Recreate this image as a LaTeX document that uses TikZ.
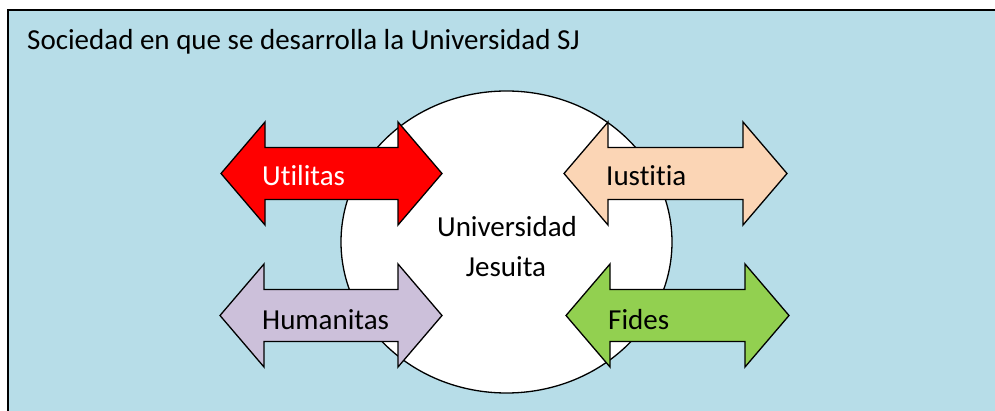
\documentclass[tikz,border=0pt]{standalone}
\usepackage{fontspec}
\setmainfont[RawFeature={-liga;-clig;-dlig;-calt}]{Carlito}
\definecolor{bgblue}{HTML}{B7DDE8}
\definecolor{utred}{HTML}{FF0000}
\definecolor{iupeach}{HTML}{FBD5B5}
\definecolor{hulav}{HTML}{CCC0DA}
\definecolor{figreen}{HTML}{92D050}
\newcommand\dblarr[4]{%
  \draw[arrowbox, fill=#4] (#1,#3) -- (#1+44,#3-51.5) -- (#1+44,#3-26) -- (#2-44,#3-26) -- (#2-44,#3-51.5) -- (#2,#3) -- (#2-44,#3+51.5) -- (#2-44,#3+26) -- (#1+44,#3+26) -- (#1+44,#3+51.5) -- cycle;}
\begin{document}
\begin{tikzpicture}[x=1pt,y=-1pt,
  arrowbox/.style={draw=black, line width=1.3pt, line join=miter},
  lbl/.style={inner sep=0pt, font=\fontsize{29}{35}\selectfont},
  ]
\useasboundingbox (0,0) rectangle (995,411);
\clip (0,0) rectangle (995,411);
\fill[white] (0,0) rectangle (995,411);
\draw[line width=2pt, fill=bgblue] (7.5,10.5) rectangle (1010,430);
\node[lbl, anchor=base west] (title) at (27,50) {Sociedad en que se desarrolla la Universidad SJ};
\coordinate (cc) at (506.5,242);
\draw[line width=1.3pt, fill=white] (cc) ellipse [x radius=165.5, y radius=151];
\dblarr{221}{442}{173.5}{utred}
\dblarr{564}{787}{173.5}{iupeach}
\dblarr{220}{442}{315.5}{hulav}
\dblarr{566}{789}{315.5}{figreen}
\node[lbl, anchor=base west, text=white] (util) at (262,186) {Utilitas};
\node[lbl, anchor=base west] (iust) at (606,186) {Iustitia};
\node[lbl, anchor=base west] (huma) at (262,329) {Humanitas};
\node[lbl, anchor=base west] (fide) at (608,329) {Fides};
\node[lbl, anchor=base] (uni1) at (507,237) {Universidad};
\node[lbl, anchor=base] (uni2) at (506,277) {Jesuita};
\end{tikzpicture}
\end{document}
